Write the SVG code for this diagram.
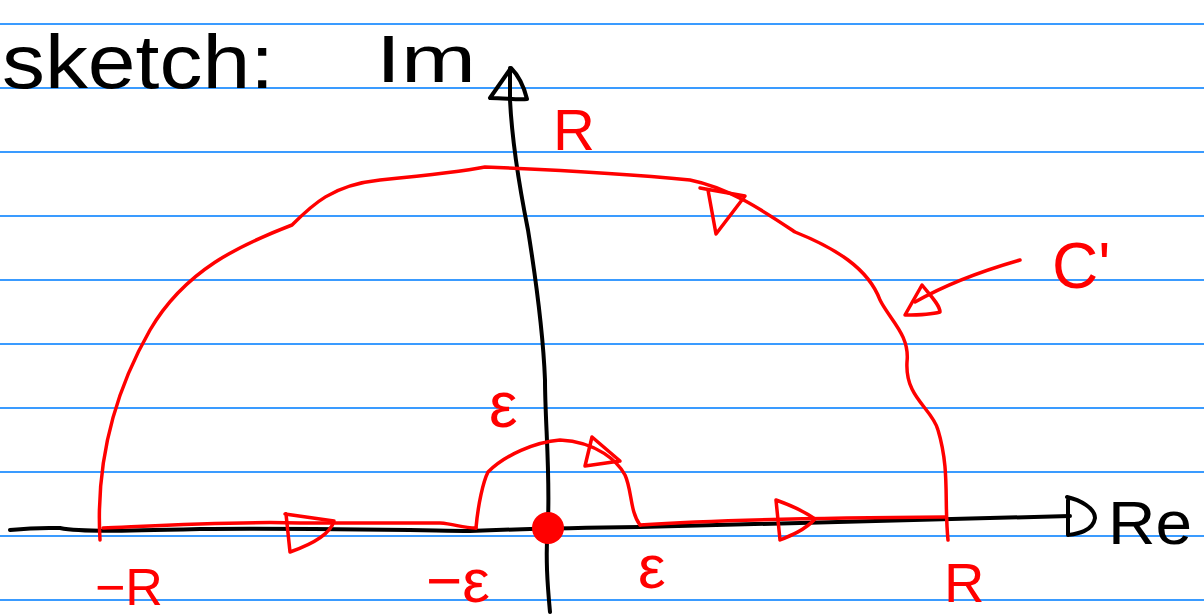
<svg xmlns="http://www.w3.org/2000/svg" width="1204" height="615" viewBox="0 0 1204 615">
<style>
.rule{stroke:#3a9bff;stroke-width:2}
.blk{fill:none;stroke:#000;stroke-width:4;stroke-linecap:round;stroke-linejoin:round}
.red{fill:none;stroke:#ff0000;stroke-width:3.5;stroke-linecap:round;stroke-linejoin:round}
.tb{font-family:"Liberation Sans",Arial,sans-serif;fill:#000}
.tr{font-family:"Liberation Sans",Arial,sans-serif;fill:#ff0000}
</style>
<rect width="1204" height="615" fill="#fff"/>
<g id="ruling">
<line class="rule" x1="0" y1="24" x2="1204" y2="24"/>
<line class="rule" x1="0" y1="88" x2="1204" y2="88"/>
<line class="rule" x1="0" y1="152" x2="1204" y2="152"/>
<line class="rule" x1="0" y1="216" x2="1204" y2="216"/>
<line class="rule" x1="0" y1="280" x2="1204" y2="280"/>
<line class="rule" x1="0" y1="344" x2="1204" y2="344"/>
<line class="rule" x1="0" y1="408" x2="1204" y2="408"/>
<line class="rule" x1="0" y1="472" x2="1204" y2="472"/>
<line class="rule" x1="0" y1="536" x2="1204" y2="536"/>
<line class="rule" x1="0" y1="600" x2="1204" y2="600"/>
</g>
<g id="title">
<text class="tb" x="2" y="88" font-size="76" textLength="272" lengthAdjust="spacingAndGlyphs">sketch:</text>
</g>
<g id="axes">
<path class="blk" d="M10,530 C40,527 50,528 60,528 C80,532 120,531 200,529 C300,528 400,530 470,531 C520,529 560,528 640,527 C800,522 950,518 1070,516"/>
<path class="blk" d="M1067,497 C1080,500 1095,508 1095,518 C1093,532 1075,534 1068,535 L1068,500"/>
<path class="blk" d="M550,612 C548,590 545,560 548,520 C550,470 545,420 545,380 C543,330 536,280 528,230 C520,190 512,140 510,100 L510,68"/>
<path class="blk" d="M511,68 L490,98 C505,98 518,100 527,99 C524,87 518,75 511,68 Z"/>
<text class="tb" x="376" y="82" font-size="66" textLength="100" lengthAdjust="spacingAndGlyphs">Im</text>
<text class="tb" x="1108" y="544" font-size="62" textLength="84" lengthAdjust="spacingAndGlyphs">Re</text>
</g>
<g id="contour">
<path class="red" d="M100,540 C96,470 110,400 150,330 C185,270 240,245 292,225 C312,205 332,185 380,180 C420,176 460,172 485,167 C560,170 640,175 690,180 C730,188 765,212 795,232 C835,248 868,268 880,300 C890,320 910,335 907,362 C905,398 932,408 938,430 C950,470 944,500 948,540"/>
<path class="red" d="M103,528 C150,526 230,521 300,523 L440,523 C455,524 462,528 476,528"/>
<path class="red" d="M476,528 C478,505 483,482 488,472 C505,455 535,442 560,440 C598,442 618,462 625,475 C632,490 630,512 640,525"/>
<path class="red" d="M640,525 C700,521 800,518 945,517"/>
<circle cx="548" cy="528" r="16" fill="#ff0000"/>
</g>
<g id="arrowheads">
<path class="red" d="M285,514 L334,521 C330,535 310,545 290,552 L286,514"/>
<path class="red" d="M776,500 C790,505 805,512 815,519 C805,530 790,536 780,540 L776,500"/>
<path class="red" d="M700,188 L745,196 L716,234 L708,190"/>
<path class="red" d="M592,437 L620,461 L585,466 Z"/>
</g>
<g id="label-arrow">
<path class="red" d="M1020,260 C985,270 950,282 915,302"/>
<path class="red" d="M905,315 L922,285 C930,295 940,305 940,312 C930,315 915,315 905,315 Z"/>
<text class="tr" x="1052" y="288" font-size="64">C'</text>
</g>
<g id="labels">
<text class="tr" x="553" y="150" font-size="58">R</text>
<text class="tr" x="489" y="427" font-size="64">ε</text>
<text class="tr" x="95" y="605" font-size="52">−R</text>
<text class="tr" x="426" y="602" font-size="62">−ε</text>
<text class="tr" x="638" y="588" font-size="62">ε</text>
<text class="tr" x="944" y="602" font-size="56">R</text>
</g>
</svg>
